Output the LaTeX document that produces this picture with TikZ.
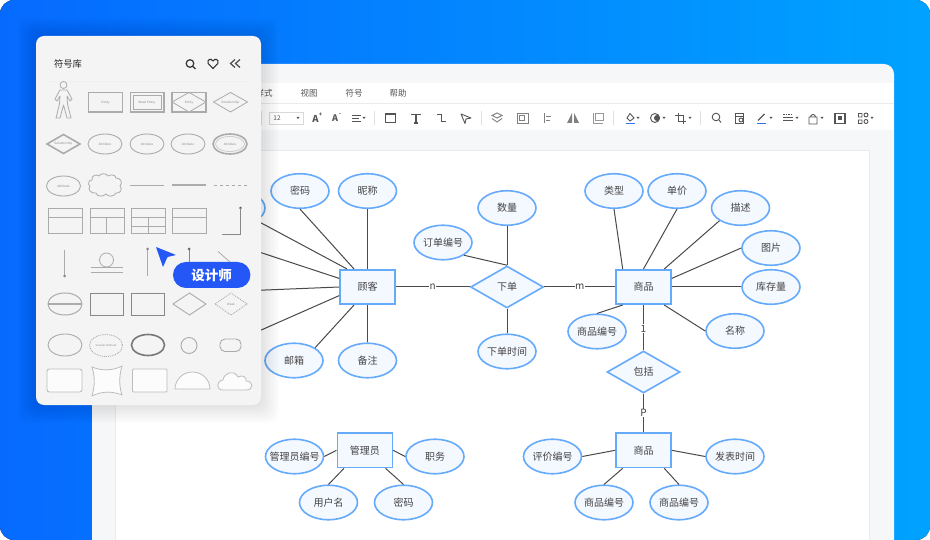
\documentclass[tikz,border=0pt]{standalone}
\usepackage{fontspec}
\setmainfont{Noto Sans CJK SC}
\usepackage{xcolor}
\usetikzlibrary{arrows.meta,shapes.geometric}
\definecolor{edgeblue}{HTML}{66ABFB}
\definecolor{fillblue}{HTML}{F4F8FF}
\definecolor{linegray}{HTML}{4A4A4A}
\definecolor{labelgray}{HTML}{444444}
\definecolor{panelgray}{HTML}{F4F4F4}
\definecolor{stencil}{HTML}{ABABAB}
\definecolor{icongray}{HTML}{555555}
\definecolor{barblue}{HTML}{2F74EE}
\definecolor{backleft}{HTML}{066AFF}
\definecolor{backright}{HTML}{00A2FF}
\definecolor{badgeblue}{HTML}{2457F5}
\definecolor{windowgray}{HTML}{F6F7F9}
\tikzset{
  attr/.style={ellipse, draw=edgeblue, fill=fillblue, line width=1.6pt, minimum width=58pt, minimum height=34.5pt, inner sep=0pt, text=labelgray, font=\fontsize{10}{10}\selectfont},
  ent/.style={rectangle, draw=edgeblue, fill=fillblue, line width=1.6pt, minimum width=55pt, minimum height=34.5pt, inner sep=0pt, text=labelgray, font=\fontsize{10}{10}\selectfont},
  rel/.style={diamond, aspect=1.74, draw=edgeblue, fill=fillblue, line width=1.6pt, minimum width=73pt, minimum height=42pt, inner sep=0pt, text=labelgray, font=\fontsize{10}{10}\selectfont},
  link/.style={draw=linegray, line width=1pt},
  lab/.style={fill=white, inner sep=0.6pt, text=labelgray, font=\fontsize{10}{10}\selectfont},
  menu/.style={text=icongray, font=\fontsize{8.5}{8.5}\selectfont, inner sep=0pt},
  icon/.style={draw=icongray, line width=0.9pt},
  drop/.style={fill=icongray, draw=none},
  sten/.style={draw=stencil, line width=0.8pt, fill=panelgray},
  thick sten/.style={draw=stencil, line width=1.6pt, fill=panelgray},
  tiny/.style={text=stencil!80!black, font=\fontsize{3}{3}\selectfont, inner sep=0pt},
}
\begin{document}
\begin{tikzpicture}[x=1pt, y=-1pt]
  \useasboundingbox (0,0) rectangle (930,540);

  % === Backdrop ===
  \fill[white] (0,0) rectangle (930,540);
  \fill[left color=backleft, right color=backright, rounded corners=14pt] (0,0) rectangle (930,540);

  % === Window ===
  \fill[windowgray] (92,540) [rounded corners=10pt] -- (92,64) -- (894,64) [sharp corners] -- (894,540) -- cycle;
  \fill[white] (92,83) rectangle (894,130);
  \draw[black!8, line width=0.5pt] (92,103) -- (894,103);
  \fill[white] (115,150) rectangle (869,540);
  \draw[black!8, line width=0.5pt] (115,540) -- (115,150) -- (869,150) -- (869,540);

  % menu row
  \node[menu] (mstyle) at (264,93) {样式};
  \node[menu] (mview) at (309,93) {视图};
  \node[menu] (msym) at (354,93) {符号};
  \node[menu] (mhelp) at (398,93) {帮助};

  % toolbar
  \draw[black!15, line width=0.5pt] (269,112) rectangle (303.5,124.5);
  \node[menu, font=\fontsize{6.5}{6.5}\selectfont] (fsize) at (277,118) {12};
  \foreach \x in {298,364,638,664,690,771,797,822,872}
    \fill[drop] (\x-1.5,117) -- (\x+1.5,117) -- (\x,119) -- cycle;
  \foreach \x in {261.5,374.5,481.5,613.5,700.5}
    \draw[black!12, line width=0.6pt] (\x,111) -- (\x,125);
  \node[menu, font=\fontsize{9.5}{9.5}\selectfont\bfseries] (abig) at (315.5,118.5) {A};
  \node[menu, font=\fontsize{5.5}{5.5}\selectfont\bfseries] (abigp) at (320.5,115) {+};
  \node[menu, font=\fontsize{9}{9}\selectfont\bfseries] (asmall) at (335,118.5) {A};
  \node[menu, font=\fontsize{5.5}{5.5}\selectfont\bfseries] (asmallm) at (340,115) {-};
  \foreach \y/\w in {115/9, 118/6.5, 121/9}
    \draw[icon] (352,\y) -- +(\w,0);
  \draw[icon, line width=1.1pt] (385.5,114) rectangle (395.5,122.5);
  \draw[icon, line width=1.1pt] (411,114.5) -- (421,114.5) (416,114.5) -- (416,123) (414,123) -- (418,123);
  \draw[icon] (437,114) -- (441.5,114) -- (441.5,121.5) -- (446,121.5);
  \draw[icon, line join=round] (461,114) -- (471,118) -- (466,119) -- (465,123.5) -- cycle;
  \draw[icon, draw=gray] (497,113) -- (502,115.5) -- (497,118) -- (492,115.5) -- cycle
    (492,118.5) -- (497,122) -- (502,118.5);
  \draw[icon, draw=gray] (517,113) rectangle (528,123.5) (519.5,115.5) rectangle (524.5,120);
  \draw[icon, draw=gray] (544,113) -- (544,123.5) (546,116) -- (551,116) (546,120) -- (550,120);
  \fill[gray] (572,113) -- (572,123) -- (567,123) -- cycle (574,113) -- (574,123) -- (579,123) -- cycle;
  \draw[icon, draw=gray!80] (593,113) -- (593,123) -- (603,123) (595.5,113) rectangle (603,120.5);
  \draw[icon] (627,118) -- (630,113.5) -- (634,118) -- (630,121) -- cycle;
  \draw[barblue, line width=1.2pt] (625.5,123.5) -- (634.5,123.5);
  \draw[icon] (655,118) circle (4.5);
  \fill[icongray] (657,118) circle (3);
  \draw[icon] (678,113) -- (678,121.5) -- (686,121.5) (675,115.5) -- (683,115.5) -- (683,124);
  \draw[icon] (716,117) circle (3.8) (719,120) -- (721,122.5);
  \draw[icon] (735,113) rectangle (743.5,123) (735,116.5) -- (743.5,116.5);
  \draw[icon] (741,120) circle (2);
  \draw[icon, line width=1.1pt] (758,120.5) -- (764.5,114);
  \draw[barblue, line width=1.2pt] (757,123.5) -- (766,123.5);
  \draw[icon, dash pattern=on 1.5pt off 1pt] (783,114.5) -- (793,114.5);
  \draw[icon] (783,117) -- (793,117);
  \draw[icon, line width=1.2pt] (783,120.5) -- (793,120.5);
  \draw[icon] (809,117) rectangle (817,124) (810.5,117) arc[start angle=180, end angle=360, radius=2.5];
  \draw[icon, line width=1.1pt] (835,113.5) rectangle (845,123.5);
  \fill[icongray] (838,116.5) rectangle (842,120.5);
  \draw[icon] (858.5,113.5) rectangle (862,117) (858.5,120) rectangle (862,123.5) (866,115) circle (2) (866,121.5) circle (2);

  % === Customer Group ===
  \node[attr] (hidea) at (236,208) {};
  \node[attr] (hideb) at (205,244) {};
  \node[attr] (hidec) at (211,291) {};
  \node[attr] (hided) at (211,339) {};
  \node[attr] (pass) at (300,191) {密码};
  \node[attr] (nick) at (367.5,191) {昵称};
  \node[attr] (mail) at (294,360.5) {邮箱};
  \node[attr] (note) at (367.5,360.5) {备注};
  \node[ent] (cust) at (367.5,287) {顾客};

  \draw[link] (hidea.south east) -- ([xshift=-20.5pt]cust.north);
  \draw[link] (hideb.east) -- ([yshift=8.6pt]cust.west);
  \draw[link] (hidec.east) -- (cust.west);
  \draw[link] (hided.east) -- ([yshift=-8.6pt]cust.west);
  \draw[link] (pass.south) -- ([xshift=-13.5pt]cust.north);
  \draw[link] (nick.south) -- (cust.north);
  \draw[link] (mail.north east) -- ([xshift=-13.5pt]cust.south);
  \draw[link] (note.north) -- (cust.south);

  % === Order Relation ===
  \node[rel] (order) at (507,287) {下单};
  \node[attr] (qty) at (507,208) {数量};
  \node[attr] (ordno) at (443,242.5) {订单编号};
  \node[attr] (ordtime) at (507,351.5) {下单时间};
  \draw[link] (qty.south) -- (order.north);
  \draw[link] (ordno.south east) -- (order.north);
  \draw[link] (ordtime.north) -- (order.south);
  \draw[link] (cust.east) -- node[lab] {n} (order.west);

  % === Goods Group ===
  \node[ent] (goods) at (643.5,287) {商品};
  \node[attr] (kind) at (614,191) {类型};
  \node[attr] (price) at (677,191) {单价};
  \node[attr] (desc) at (740.5,208) {描述};
  \node[attr] (pict) at (771,248) {图片};
  \node[attr] (stock) at (771,287) {库存量};
  \node[attr] (name) at (735,331) {名称};
  \node[attr] (goodno) at (597,331.5) {商品编号};
  \draw[link] (kind.south) -- ([xshift=-20.8pt]goods.north);
  \draw[link] (price.south) -- (goods.north);
  \draw[link] (desc.south west) -- ([xshift=20.8pt]goods.north);
  \draw[link] (pict.west) -- ([yshift=8.6pt]goods.east);
  \draw[link] (stock.west) -- (goods.east);
  \draw[link] (name.west) -- ([xshift=20.8pt]goods.south);
  \draw[link] (goodno.north) -- ([xshift=-20.8pt]goods.south);
  \draw[link] (order.east) -- node[lab] {m} (goods.west);

  % === Include Relation ===
  \node[rel] (incl) at (643.5,372) {包括};
  \node[ent] (review) at (643.5,450.3) {商品};
  \node[attr] (revno) at (552.5,456.5) {评价编号};
  \node[attr] (revtime) at (735,456.5) {发表时间};
  \node[attr] (revga) at (604,502.5) {商品编号};
  \node[attr] (revgb) at (679,502.5) {商品编号};
  \draw[link] (goods.south) -- node[lab, pos=0.52] {1} (incl.north);
  \draw[link] (incl.south) -- node[lab] {P} (review.north);
  \draw[link] (revno.east) -- (review.west);
  \draw[link] (revtime.west) -- (review.east);
  \draw[link] (revga.north) -- ([xshift=-20.8pt]review.south);
  \draw[link] (revgb.north) -- ([xshift=20.8pt]review.south);

  % === Admin Group ===
  \node[ent] (admin) at (364.8,450.3) {管理员};
  \node[attr, inner xsep=-4.5pt] (admno) at (294.5,456.5) {管理员编号};
  \node[attr] (duty) at (435,456.5) {职务};
  \node[attr] (user) at (328.5,502.5) {用户名};
  \node[attr] (admpw) at (403.5,502.5) {密码};
  \draw[link] (admno.east) -- (admin.west);
  \draw[link] (duty.west) -- (admin.east);
  \draw[link] (user.north) -- ([xshift=-20.8pt]admin.south);
  \draw[link] (admpw.north) -- ([xshift=20.8pt]admin.south);

  % === Symbol Panel ===
  \foreach \r in {1,...,9}
    \fill[black, opacity=0.012, rounded corners=10pt] (36-2*\r,36-2*\r) rectangle (261+2*\r,405+2*\r);
  \fill[panelgray, rounded corners=8pt] (36,36) rectangle (261,405);
  \node[text=black!85, font=\fontsize{9.3}{9.3}\selectfont, inner sep=0pt] (title) at (68,64) {符号库};
  \draw[black!6, line width=0.6pt] (45,81.5) -- (250,81.5);
  \draw[black!80, line width=1.2pt] (190,63.5) circle (3.8) (193,66.5) -- (195.5,69);
  \draw[black!80, line width=1.1pt, line join=round] (213,68.5) -- (208.2,63.5) .. controls (206.5,59) and (211.5,58) .. (213,61) .. controls (214.5,58) and (219.5,59) .. (217.8,63.5) -- cycle;
  \draw[black!70, line width=1.2pt] (235,59.5) -- (230.5,63.5) -- (235,67.5) (240,59.5) -- (235.5,63.5) -- (240,67.5);

  % row 1
  \draw[sten, line join=round] (63.5,85) circle (3.5);
  \draw[sten, line join=round] (60,90) -- (67,90) -- (72,99) -- (70,101) -- (67,96) -- (67.5,104) -- (71,118) -- (67,118) -- (63.5,105) -- (60,118) -- (56,118) -- (59.5,104) -- (60,96) -- (57,101) -- (55,99) -- cycle;
  \draw[sten, line width=1.1pt] (88.5,92.5) rectangle (122.5,112);
  \node[tiny] (p1) at (105.5,102.5) {Entity};
  \draw[thick sten] (130.5,92.5) rectangle (164,112);
  \draw[sten] (133,95) rectangle (161.5,109.5);
  \node[tiny] (p2) at (147,102.5) {Weak Entity};
  \draw[sten, line width=1.1pt] (172,92.5) rectangle (206,112);
  \draw[sten] (172,102) -- (189,92.5) -- (206,102) -- (189,112) -- cycle;
  \node[tiny] (p3) at (189,102.5) {Entity};
  \draw[sten] (213.5,102) -- (230.5,92.5) -- (247.5,102) -- (230.5,112) -- cycle;
  \node[tiny] (p4) at (230.5,102.5) {Relationship};

  % row 2
  \draw[thick sten] (47,144) -- (63.5,134.5) -- (80,144) -- (63.5,153.5) -- cycle;
  \node[tiny] (p5) at (63.5,144) {Relationship};
  \foreach \x/\n in {105/a, 147/b, 188/c} {
    \draw[sten, line width=0.9pt] (\x,144) ellipse (17 and 10);
    \node[tiny] (att\n) at (\x,144) {Attribute};
  }
  \draw[thick sten] (230,144) ellipse (17 and 10);
  \draw[sten, draw=stencil!60] (230,144) ellipse (14.5 and 7.5);
  \node[tiny] (attd) at (230,144) {Attribute};

  % row 3
  \draw[sten, line width=0.9pt] (63.5,186) ellipse (17 and 10);
  \node[tiny] (atte) at (63.5,186) {Attribute};
  \draw[sten, line join=round] (92,180) .. controls (91,175) and (97,174) .. (99,176) .. controls (101,173) and (106,173) .. (108,176) .. controls (111,174) and (116,175) .. (116,178) .. controls (121,178) and (123,183) .. (120,186) .. controls (123,189) and (120,194) .. (116,193) .. controls (114,197) and (108,197) .. (106,194) .. controls (103,197) and (97,197) .. (96,193) .. controls (91,194) and (87,189) .. (90,186) .. controls (87,184) and (89,180) .. (92,180) -- cycle;
  \draw[stencil, line width=0.9pt] (130,185.5) -- (164,185.5);
  \draw[stencil, line width=2.4pt] (172,185) -- (206,185);
  \draw[stencil, line width=0.9pt, dashed] (213.5,185.5) -- (247.5,185.5);

  % row 4
  \foreach \x in {48.5,90,131.5,172}
    \draw[sten, line width=0.9pt] (\x,208) rectangle +(34,25) (\x,217.5) -- +(34,0);
  \draw[stencil, line width=0.9pt] (106.5,217.5) -- (106.5,233) (148,217.5) -- (148,233) (131.5,226.7) -- (165.5,226.7);
  \fill[icongray] (240.5,208) circle (1.3);
  \draw[stencil!80!black, line width=0.8pt] (240.5,208) -- (240.5,234.5) -- (221.5,234.5);

  % row 5
  \draw[stencil, line width=1.2pt] (64.7,250) -- (64.7,276);
  \fill[stencil!80!black] (64.7,276) circle (1.5);
  \draw[sten] (106.5,260) circle (7);
  \draw[stencil, line width=0.8pt] (90.5,267) -- (122.5,267) (90.5,272) -- (122.5,272);
  \draw[stencil, line width=1.2pt] (147.5,249) -- (147.5,276);
  \fill[stencil!80!black] (147.5,249) circle (1.5);
  \draw[stencil!80!black, line width=0.8pt] (189,249) -- (189,265);
  \fill[stencil!60!black] (189,249) circle (1.5);
  \draw[stencil, line width=0.8pt] (218,251.5) -- (230,262);

  % row 6
  \draw[sten, line width=1pt] (65,304) ellipse (17 and 11);
  \draw[stencil, line width=1.2pt] (48,304) -- (82,304);
  \draw[sten, draw=stencil!80!black, line width=0.9pt] (90,293.5) rectangle (123.5,315);
  \draw[sten, draw=stencil!80!black, line width=0.9pt] (131,293.5) rectangle (164.5,315);
  \draw[sten, line width=0.9pt] (173,304) -- (189.5,293) -- (206,304) -- (189.5,315) -- cycle;
  \draw[sten, line width=0.9pt, densely dotted] (215,304) -- (231,293) -- (247,304) -- (231,315) -- cycle;
  \node[tiny] (weakr) at (231,304) {Weak};

  % row 7
  \draw[sten, line width=0.9pt] (65,345) ellipse (17 and 11);
  \draw[sten, line width=0.9pt, densely dotted] (106,345.5) ellipse (16.5 and 11);
  \node[tiny, font=\fontsize{2.6}{2.6}\selectfont] (derived) at (106,345.5) {General attribute};
  \draw[thick sten, draw=stencil!70!black] (148,345) ellipse (16.5 and 10.5);
  \draw[sten, line width=0.9pt] (189,345.5) circle (8);
  \draw[sten, line width=0.9pt, rounded corners=5pt] (220,339) rectangle (241,351.5);

  % row 8
  \draw[sten, draw=stencil!80, fill=white!70!panelgray, line width=0.9pt, rounded corners=2.5pt] (47,369) rectangle (82,392);
  \draw[sten, draw=stencil!80, fill=white!70!panelgray] (92,367) .. controls (102,371) and (112,371) .. (122,366) .. controls (119,376) and (119,386) .. (122,395) .. controls (112,391) and (102,391) .. (92,396) .. controls (95,386) and (95,376) .. (92,367) -- cycle;
  \draw[sten, draw=stencil!80, fill=white!70!panelgray, line width=0.9pt, rounded corners=1pt] (132.5,369) rectangle (167,392);
  \draw[sten, draw=stencil!80, fill=white!70!panelgray] (175,389) arc[start angle=180, end angle=360, x radius=17.5, y radius=17] -- cycle;
  \draw[sten, draw=stencil!80, fill=white!70!panelgray, line join=round] (223,390) .. controls (216,390) and (216,381) .. (223,380) .. controls (224,373) and (234,369) .. (238,377) .. controls (243,374) and (247,378) .. (246,381) .. controls (254,381) and (254,390) .. (246,390) -- cycle;

  % === Cursor Badge ===
  \fill[badgeblue, rounded corners=0.5pt] (156,247) -- (176,255) -- (167.5,257) -- (163,267) -- cycle;
  \node[fill=badgeblue, text=white, rounded corners=13pt, minimum width=77.5pt, minimum height=26pt, inner sep=0pt, font=\fontsize{13.5}{13.5}\selectfont\bfseries] (badge) at (211.7,275) {设计师};
\end{tikzpicture}
\end{document}
